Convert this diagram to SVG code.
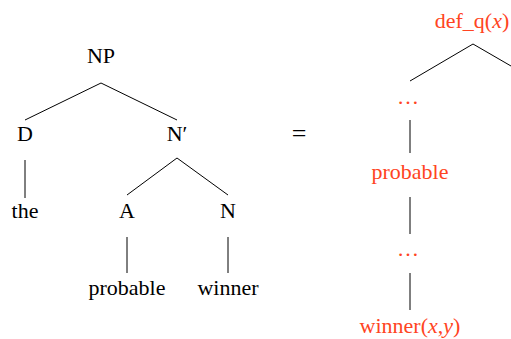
<svg xmlns="http://www.w3.org/2000/svg" width="511" height="339" viewBox="0 0 511 339">
<style>
text{font-family:'Liberation Serif','DejaVu Serif','Times New Roman',Times,serif;font-size:22px;text-anchor:middle;fill:#000}
.r{fill:#ff4422}
.i{font-style:italic}
line{stroke:#000;stroke-width:1}
</style>
<rect width="511" height="339" fill="#fff"/>
<g id="connectors">
<line x1="101" y1="83" x2="25" y2="120"/>
<line x1="101" y1="83" x2="177" y2="120"/>
<line x1="25" y1="160" x2="25" y2="198"/>
<line x1="177" y1="158" x2="127" y2="195"/>
<line x1="177" y1="158" x2="228" y2="195"/>
<line x1="127" y1="237" x2="127" y2="273"/>
<line x1="228" y1="237" x2="228" y2="273"/>
<line x1="473" y1="44" x2="410" y2="81"/>
<line x1="473" y1="44" x2="511" y2="66"/>
<line x1="410" y1="120" x2="410" y2="153"/>
<line x1="410" y1="197" x2="410" y2="234"/>
<line x1="410" y1="273" x2="410" y2="310"/>
</g>
<g id="NP"><text x="101" y="63">NP</text></g>
<g id="D"><text x="25" y="141">D</text></g>
<g id="Nbar"><text x="177" y="141">N′</text></g>
<g id="the"><text x="25" y="218">the</text></g>
<g id="A"><text x="127" y="218">A</text></g>
<g id="N"><text x="228" y="218">N</text></g>
<g id="probable"><text x="127" y="295">probable</text></g>
<g id="winner"><text x="228" y="295">winner</text></g>
<g id="eq"><text x="299" y="142" style="font-size:26px">=</text></g>
<g id="defq"><text class="r" x="472" y="28">def_q(<tspan class="i">x</tspan>)</text></g>
<g id="dots1"><text class="r" x="408" y="104">…</text></g>
<g id="probable2"><text class="r" x="410" y="179">probable</text></g>
<g id="dots2"><text class="r" x="408" y="256">…</text></g>
<g id="winner2"><text class="r" x="410" y="333">winner(<tspan class="i">x</tspan>,<tspan class="i">y</tspan>)</text></g>
</svg>
